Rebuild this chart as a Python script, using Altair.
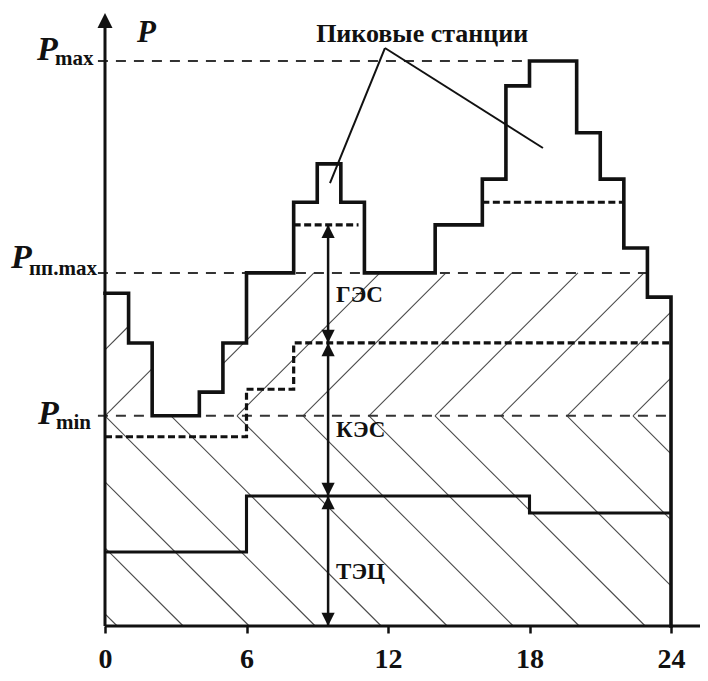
import altair as alt
import pandas as pd

# ---------------- data ----------------
hours = list(range(24))
# total load P(t), hourly steps (units: % of Pmax)
load = [58.9, 50.1, 37.2, 37.2, 41.4, 50.1, 62.5, 62.5, 75.0, 81.8, 75.0, 62.5,
        62.5, 62.5, 71.0, 71.0, 79.1, 95.6, 100.0, 100.0, 87.3, 79.1, 66.9, 58.2]
# upper boundary of ТЭЦ (CHP) generation
tec = [13.1] * 6 + [23.0] * 12 + [20.0] * 6
# upper boundary of КЭС (condensing plants) generation
kes = [33.5] * 6 + [41.9] * 2 + [50.1] * 16
# upper boundary of ГЭС (hydro) generation during peaks: (start, end, level)
ges_start = [8.0, 16.0]
ges_end = [10.75, 22.0]
ges_level = [71.0, 75.0]

# reference levels
level_names = ["max", "пп.max", "min"]
level_values = [100.0, 62.5, 37.2]
level_ends = [18.0, 23.0, 24.0]
P_MAX, P_PP, P_MIN = level_values

# double arrows with station names
arrow_names = ["ГЭС", "КЭС", "ТЭЦ"]
arrow_top = [71.0, 50.1, 23.0]
arrow_bottom = [50.1, 23.0, 0.0]
arrow_hour = 9.46

x_ticks = [0, 6, 12, 18, 24]

# annotation "Пиковые станции" with two leader lines
title_text = "Пиковые станции"
title_pos = (13.45, 103.4)
leader_apex = (11.87, 102.3)
leader_ends = [(9.54, 78.4), (18.57, 84.6)]

# ---------------- geometry of the plot ----------------
W, H = 692, 618
PX_H = 566 / 24.0      # pixels per hour
PX_P = 565 / 100.0     # pixels per unit of P
X_DOM = [-97 / PX_H, (W - 97) / PX_H]
Y_DOM = [0, H / PX_P]
Y_TOP = (618 - 5) / PX_P     # tip of the vertical axis arrow

FONT = "Liberation Serif"
INK = "#111111"

xs = alt.Scale(domain=X_DOM, nice=False, zero=False)
ys = alt.Scale(domain=Y_DOM, nice=False, zero=False)
XAXIS = alt.Axis(
    values=x_ticks, domain=False, grid=False, ticks=True, tickSize=7,
    tickWidth=2.5, tickColor=INK, labelFont=FONT, labelFontWeight="bold",
    labelFontSize=28, labelColor=INK, labelPadding=12, title=None,
    labelFlush=False, labelOverlap=False, format="d")


def X(field):
    return alt.X(field, scale=xs, axis=XAXIS)


def Y(field):
    return alt.Y(field, scale=ys, axis=None)


def steps(values, close=False):
    rows = []
    o = 0
    for h, v in zip(hours, values):
        rows.append({"x": h, "y": v, "o": o}); o += 1
        rows.append({"x": h + 1, "y": v, "o": o}); o += 1
    if close:
        rows.append({"x": 24, "y": 0, "o": o})
    return pd.DataFrame(rows)


def path(df, **kw):
    return alt.Chart(df).mark_line(**kw).encode(
        x=X("x:Q"), y=Y("y:Q"), order="o:Q")


# ---------------- hatching (45° on screen) ----------------
SLOPE = PX_H / PX_P          # P per hour for a 45° line on screen
SPACING = 66 / PX_H          # hours between hatch lines
seg_rows = []
for k in range(-6, 12):
    x0 = k * SPACING
    # "/" lines above Pmin, below min(load, Pпп.max)
    cur = None
    for h in hours:
        ceil = min(load[h], P_PP)
        if ceil <= P_MIN:
            lo, hi = 1, 0
        else:
            lo = max(h, x0)
            hi = min(h + 1, x0 + (ceil - P_MIN) / SLOPE)
        if lo < hi:
            if cur is not None and abs(cur[1] - lo) < 1e-9:
                cur[1] = hi
            else:
                if cur is not None:
                    seg_rows.append(cur)
                cur = [lo, hi, +1, x0]
        else:
            if cur is not None:
                seg_rows.append(cur)
                cur = None
    if cur is not None:
        seg_rows.append(cur)
    # "\" lines below Pmin down to the time axis
    lo = max(0, x0)
    hi = min(24, x0 + P_MIN / SLOPE)
    if lo < hi:
        seg_rows.append([lo, hi, -1, x0])

hatch_df = pd.DataFrame(
    [{"x": a, "x2": b,
      "y": P_MIN + d * SLOPE * (a - x0),
      "y2": P_MIN + d * SLOPE * (b - x0)} for a, b, d, x0 in seg_rows]
)
hatch = alt.Chart(hatch_df).mark_rule(color="#4a4a4a", strokeWidth=1.1).encode(
    x=X("x:Q"), x2="x2:Q", y=Y("y:Q"), y2="y2:Q")

# ---------------- reference dashed levels ----------------
lvl_df = pd.DataFrame({"x": [-0.3] * 3, "x2": level_ends, "y": level_values})
levels = alt.Chart(lvl_df).mark_rule(
    color="#333333", strokeWidth=2, strokeDash=[10, 8]
).encode(x=X("x:Q"), x2="x2:Q", y=Y("y:Q"))

# ---------------- station boundaries ----------------
load_line = path(steps(load, close=True), color=INK, strokeWidth=3.6,
                 strokeJoin="miter", strokeCap="square")
tec_line = path(steps(tec), color=INK, strokeWidth=3.1, strokeJoin="miter")
kes_line = path(steps(kes), color=INK, strokeWidth=3.2, strokeDash=[7, 3.5],
                strokeJoin="miter")
ges_df = pd.DataFrame({"x": ges_start, "x2": ges_end, "y": ges_level})
ges_line = alt.Chart(ges_df).mark_rule(
    color=INK, strokeWidth=3.2, strokeDash=[7, 3.5]
).encode(x=X("x:Q"), x2="x2:Q", y=Y("y:Q"))

# ---------------- axes (lines + arrows) ----------------
axis_df = pd.DataFrame({"x": [0, 0], "x2": [0, X_DOM[1] + 0.5],
                        "y": [0, 0], "y2": [Y_TOP - 2.0, 0]})
axes_lines = alt.Chart(axis_df).mark_rule(color=INK, strokeWidth=3).encode(
    x=X("x:Q"), x2="x2:Q", y=Y("y:Q"), y2="y2:Q")
up_head = "M0,0L-0.5,1L0.5,1Z"
down_head = "M0,0L-0.5,-1L0.5,-1Z"
y_arrow = alt.Chart(pd.DataFrame({"x": [0], "y": [Y_TOP]})).mark_point(
    shape=up_head, size=900, filled=True, color=INK, opacity=1
).encode(x=X("x:Q"), y=Y("y:Q"))

# ---------------- double arrows + station names ----------------
arr_df = pd.DataFrame({"name": arrow_names, "top": arrow_top,
                       "bottom": arrow_bottom, "x": [arrow_hour] * 3})
arr_df["mid"] = (arr_df["top"] + arr_df["bottom"]) / 2
arr_rules = alt.Chart(arr_df).mark_rule(color=INK, strokeWidth=2.5).encode(
    x=X("x:Q"), y=Y("top:Q"), y2="bottom:Q")
arr_up = alt.Chart(arr_df).mark_point(
    shape=up_head, size=700, filled=True, color=INK, opacity=1
).encode(x=X("x:Q"), y=Y("top:Q"))
arr_down = alt.Chart(arr_df).mark_point(
    shape=down_head, size=700, filled=True, color=INK, opacity=1
).encode(x=X("x:Q"), y=Y("bottom:Q"))
arr_text = alt.Chart(arr_df).mark_text(
    font=FONT, fontWeight="bold", fontSize=23, color=INK, align="left",
    baseline="middle", dx=8, dy=11
).encode(x=X("x:Q"), y=Y("mid:Q"), text="name:N")

# ---------------- level labels P_max, P_пп.max, P_min ----------------
p_dx = [-68, -94, -67]
p_dy = [-1, -5, 8]
sub_dy = [4, 2, 13]
label_layers = []
for name, val, dx, dy, sdy in zip(level_names, level_values, p_dx, p_dy, sub_dy):
    d = pd.DataFrame({"x": [0], "y": [val], "p": ["P"], "s": [name]})
    label_layers.append(alt.Chart(d).mark_text(
        font=FONT, fontWeight="bold", fontStyle="italic", fontSize=34,
        color=INK, align="left", baseline="alphabetic", dx=dx, dy=dy
    ).encode(x=X("x:Q"), y=Y("y:Q"), text="p:N"))
    label_layers.append(alt.Chart(d).mark_text(
        font=FONT, fontWeight="bold", fontSize=21, color=INK, align="left",
        baseline="alphabetic", dx=dx + 18, dy=sdy
    ).encode(x=X("x:Q"), y=Y("y:Q"), text="s:N"))

p_axis_label = alt.Chart(pd.DataFrame({"x": [0], "y": [P_MAX], "t": ["P"]})).mark_text(
    font=FONT, fontWeight="bold", fontStyle="italic", fontSize=31, color=INK,
    align="left", baseline="alphabetic", dx=32, dy=-19
).encode(x=X("x:Q"), y=Y("y:Q"), text="t:N")

# ---------------- "Пиковые станции" annotation ----------------
title_df = pd.DataFrame({"x": [title_pos[0]], "y": [title_pos[1]], "t": [title_text]})
title = alt.Chart(title_df).mark_text(
    font=FONT, fontWeight="bold", fontSize=26, color=INK, align="center",
    baseline="alphabetic"
).encode(x=X("x:Q"), y=Y("y:Q"), text="t:N")
lead_df = pd.DataFrame({"x": [leader_apex[0]] * 2, "y": [leader_apex[1]] * 2,
                        "x2": [p[0] for p in leader_ends],
                        "y2": [p[1] for p in leader_ends]})
leaders = alt.Chart(lead_df).mark_rule(color=INK, strokeWidth=2).encode(
    x=X("x:Q"), x2="x2:Q", y=Y("y:Q"), y2="y2:Q")

chart = alt.layer(
    hatch, levels, tec_line, kes_line, ges_line, load_line,
    axes_lines, y_arrow, arr_rules, arr_up, arr_down, arr_text,
    *label_layers, p_axis_label, title, leaders,
).properties(
    width=W, height=H,
    background="white",
    autosize=alt.AutoSizeParams(type="none"),
    padding={"left": 0, "top": 0, "right": 0, "bottom": 47},
).configure_view(strokeWidth=0, stroke="transparent")

chart.save("out.html", embed_options={"renderer": "svg", "actions": False})
